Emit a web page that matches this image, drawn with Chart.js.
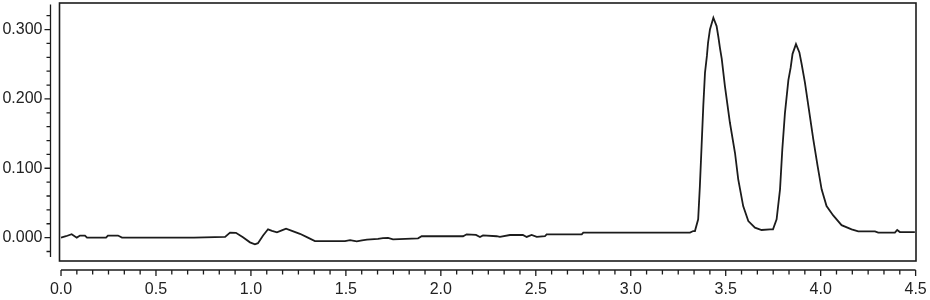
<!DOCTYPE html>
<html>
<head>
<meta charset="utf-8">
<script src="https://cdn.jsdelivr.net/npm/chart.js@4/dist/chart.umd.min.js"></script>
<style>
  html, body { margin: 0; padding: 0; background: #fff; }
  #wrap { width: 930px; height: 300px; }
</style>
</head>
<body>
<div id="wrap"><canvas id="myChart"></canvas></div>
<script>
// retention time (min)
const times = [
  0, 0.026, 0.056, 0.083, 0.100, 0.126, 0.137, 0.237, 0.247, 0.300, 0.321, 0.50, 0.70, 0.864,
  0.890, 0.921, 0.958, 0.995, 1.021, 1.037, 1.064, 1.090, 1.111, 1.137, 1.169, 1.185, 1.216,
  1.258, 1.300, 1.337, 1.416, 1.495, 1.522, 1.557, 1.585, 1.611, 1.669, 1.695, 1.722, 1.748,
  1.880, 1.899, 2.117, 2.136, 2.185, 2.206, 2.222, 2.294, 2.311, 2.364, 2.432, 2.452, 2.478,
  2.505, 2.548, 2.557, 2.742, 2.750, 3.000, 3.312, 3.329,
  3.338, 3.355, 3.364, 3.373, 3.382, 3.391, 3.401, 3.407, 3.417, 3.435, 3.452, 3.461, 3.470,
  3.479, 3.496, 3.522, 3.549, 3.566, 3.592, 3.619, 3.654, 3.689, 3.733, 3.749, 3.768,
  3.786, 3.798, 3.812, 3.830, 3.842, 3.852, 3.870, 3.888, 3.900, 3.917, 3.938, 3.961, 3.984,
  4.005, 4.031, 4.066, 4.110, 4.163, 4.198, 4.286, 4.303, 4.391, 4.403, 4.417, 4.496
];
// absorbance (AU)
const absorbance = [
  0, 0.002, 0.005, 0, 0.003, 0.003, 0, 0, 0.003, 0.003, 0, 0, 0, 0.001,
  0.0072, 0.007, 0.0004, -0.0068, -0.0097, -0.008, 0.003, 0.012, 0.0098, 0.0076, 0.0112, 0.013, 0.0098,
  0.0055, 0, -0.0049, -0.0049, -0.0049, -0.0035, -0.0053, -0.0039, -0.0029, -0.0017, -0.0006, -0.0003, -0.0024,
  -0.001, 0.002, 0.002, 0.0048, 0.004, 0.001, 0.0033, 0.002, 0.001, 0.0038, 0.0038, 0.001, 0.0038,
  0.001, 0.002, 0.0048, 0.0048, 0.0072, 0.0072, 0.0072, 0.0095,
  0.0095, 0.0264, 0.0744, 0.132, 0.190, 0.238, 0.262, 0.281, 0.300, 0.317, 0.305, 0.290, 0.273,
  0.258, 0.218, 0.166, 0.122, 0.084, 0.0455, 0.0239, 0.0144, 0.011, 0.012, 0.012, 0.0264,
  0.0696, 0.127, 0.180, 0.227, 0.245, 0.265, 0.279, 0.267, 0.250, 0.224, 0.185, 0.142, 0.103,
  0.0696, 0.0455, 0.032, 0.018, 0.012, 0.009, 0.009, 0.0072, 0.0072, 0.011, 0.008, 0.008
];

const xMinorStep = 1 / 12;
const xMajorStep = 0.5;
const xTickMax = 4.5;
const yMinorStep = 0.02;
const yMajorStep = 0.1;
const yTickMin = -0.02;
const yTickMax = 0.32;

const xTicks = new Array;
for (let i = 0; i * xMinorStep <= xTickMax + 1e-9; i++) xTicks.push(i * xMinorStep);
const yTicks = new Array;
for (let i = 0; yTickMin + i * yMinorStep <= yTickMax + 1e-9; i++) yTicks.push(yTickMin + i * yMinorStep);

function isMajor(v, step) {
  const r = v / step;
  return Math.abs(r - Math.round(r)) < 1e-6;
}

const points = new Array;
for (let i = 0; i < times.length; i++) {
  points[i] = {x: times[i], y: absorbance[i]};
}

const ink = '#1c1c1c';

// frame round the plot and the detached axes with their tick marks
const framePlugin = {
  id: 'frame',
  afterDraw(chart) {
    const c = chart.ctx;
    const a = chart.chartArea;
    const xs = chart.scales.x;
    const ys = chart.scales.y;
    c.save();
    c.strokeStyle = ink;
    c.lineWidth = 1.6;
    c.strokeRect(a.left, a.top, a.right - a.left, a.bottom - a.top);

    // y axis
    const ax = a.left - 9;
    c.lineWidth = 1.3;
    c.beginPath();
    c.moveTo(ax, a.top + 1.5);
    c.lineTo(ax, a.bottom - 4);
    for (const t of ys.ticks) {
      const py = ys.getPixelForValue(t.value);
      const len = isMajor(t.value, yMajorStep) ? 6 : 4;
      c.moveTo(ax, py);
      c.lineTo(ax - len, py);
    }
    c.stroke();

    // x axis
    const ay = a.bottom + 9;
    c.beginPath();
    c.moveTo(xs.getPixelForValue(0), ay);
    c.lineTo(xs.getPixelForValue(xTickMax), ay);
    for (const t of xs.ticks) {
      const px = xs.getPixelForValue(t.value);
      const len = isMajor(t.value, xMajorStep) ? 6 : 4.5;
      c.moveTo(px, ay);
      c.lineTo(px, ay + len);
    }
    c.stroke();
    c.restore();
  }
};

function noEdgePadding(scale) {
  scale.paddingLeft = 0;
  scale.paddingRight = 0;
  scale.paddingTop = 0;
  scale.paddingBottom = 0;
}

const ctx = document.getElementById('myChart');

const myChart = new Chart(ctx, {
  type: 'line',
  data: {
    datasets: [{
      data: points,
      borderColor: ink,
      borderWidth: 1.8,
      pointRadius: 0,
      tension: 0,
      fill: false
    }]
  },
  options: {
    responsive: true,
    maintainAspectRatio: false,
    animation: false,
    devicePixelRatio: 1,
    layout: {
      padding: {top: 3, right: 14, left: 0, bottom: 0}
    },
    scales: {
      x: {
        type: 'linear',
        min: -0.008,
        max: 4.502,
        afterBuildTicks: (scale) => { scale.ticks = xTicks.map(v => ({value: v})); },
        afterFit: (scale) => { scale.height = 39; noEdgePadding(scale); },
        grid: {display: false, drawTicks: false},
        border: {display: false},
        ticks: {
          autoSkip: false,
          maxRotation: 0,
          minRotation: 0,
          padding: 19,
          color: '#222',
          font: {family: "'Liberation Sans', Arial, sans-serif", size: 16},
          callback: (v) => isMajor(v, xMajorStep) ? v.toFixed(1) : ''
        }
      },
      y: {
        min: -0.0337,
        max: 0.3383,
        afterBuildTicks: (scale) => { scale.ticks = yTicks.map(v => ({value: v})); },
        afterFit: (scale) => { scale.width = 59.5; noEdgePadding(scale); },
        grid: {display: false, drawTicks: false},
        border: {display: false},
        ticks: {
          autoSkip: false,
          padding: 17,
          color: '#222',
          font: {family: "'Liberation Sans', Arial, sans-serif", size: 16},
          callback: (v) => isMajor(v, yMajorStep) ? v.toFixed(3) : ''
        }
      }
    },
    plugins: {
      legend: {display: false},
      tooltip: {enabled: false}
    }
  },
  plugins: [framePlugin]
});
</script>
</body>
</html>
